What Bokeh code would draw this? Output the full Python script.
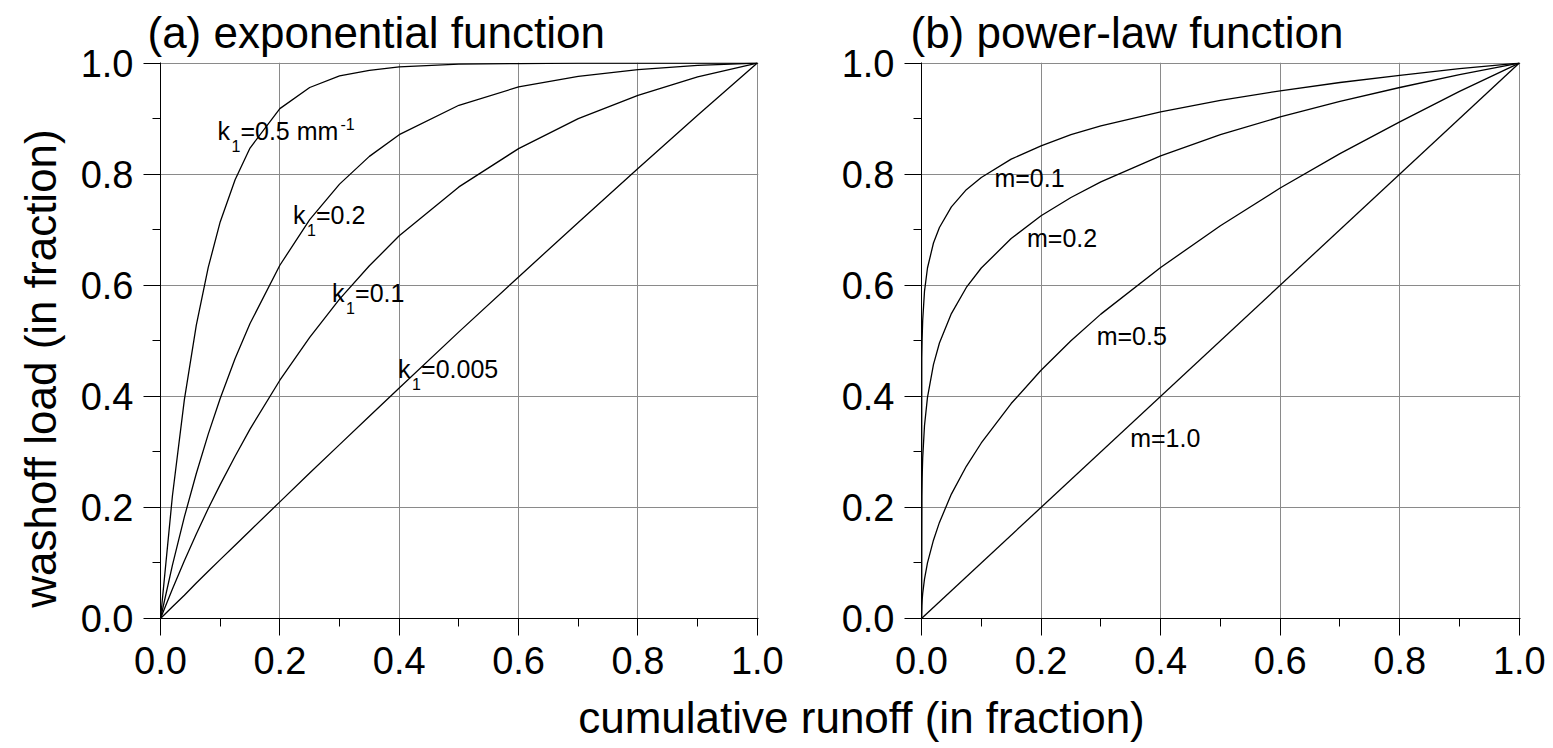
from math import pi
from bokeh.plotting import figure
from bokeh.models import Range1d, FixedTicker, Label
from bokeh.layouts import row, column
from bokeh.embed import file_html
from bokeh.resources import INLINE

# ---------------- data ----------------
exp_x = [0, 0.02, 0.04, 0.06, 0.08, 0.1, 0.125, 0.15, 0.2, 0.25, 0.3, 0.35,
         0.4, 0.5, 0.6, 0.7, 0.8, 0.9, 1.0]
k_05 = [0, 0.221, 0.394, 0.528, 0.632, 0.714, 0.790, 0.847, 0.918, 0.956, 0.977,
        0.987, 0.993, 0.998, 0.999, 1.0, 1.0, 1.0, 1.0]
k_02 = [0, 0.096, 0.183, 0.261, 0.332, 0.396, 0.468, 0.531, 0.636, 0.718, 0.782,
        0.832, 0.871, 0.924, 0.957, 0.976, 0.988, 0.996, 1.0]
k_01 = [0, 0.053, 0.104, 0.152, 0.198, 0.241, 0.292, 0.341, 0.429, 0.506, 0.575,
        0.635, 0.689, 0.777, 0.846, 0.900, 0.942, 0.975, 1.0]
k_0005 = [0, 0.021, 0.042, 0.064, 0.085, 0.106, 0.132, 0.158, 0.210, 0.262, 0.313,
          0.364, 0.415, 0.516, 0.615, 0.713, 0.810, 0.906, 1.0]

pow_x = [0, 0.0005, 0.001, 0.002, 0.005, 0.01, 0.02, 0.03, 0.05, 0.075, 0.1, 0.15,
         0.2, 0.25, 0.3, 0.4, 0.5, 0.6, 0.7, 0.8, 0.9, 1.0]
m_01 = [0, 0.468, 0.501, 0.537, 0.589, 0.631, 0.676, 0.704, 0.741, 0.772, 0.794,
        0.827, 0.851, 0.871, 0.887, 0.912, 0.933, 0.950, 0.965, 0.978, 0.990, 1.0]
m_02 = [0, 0.219, 0.251, 0.289, 0.347, 0.398, 0.457, 0.496, 0.549, 0.596, 0.631,
        0.684, 0.725, 0.758, 0.786, 0.833, 0.871, 0.903, 0.931, 0.956, 0.979, 1.0]
m_05 = [0, 0.022, 0.032, 0.045, 0.071, 0.100, 0.141, 0.173, 0.224, 0.274, 0.316,
        0.387, 0.447, 0.500, 0.548, 0.632, 0.707, 0.775, 0.837, 0.894, 0.949, 1.0]
lin_x = [0, 1.0]
m_10 = [0, 1.0]

major_ticks = [0, 0.2, 0.4, 0.6, 0.8, 1.0]
minor_ticks = [0.1, 0.3, 0.5, 0.7, 0.9]
tick_labels = ["0.0", "0.2", "0.4", "0.6", "0.8", "1.0"]

panel_titles = ["(a) exponential function", "(b) power-law function"]
y_title = "washoff load (in fraction)"
x_title = "cumulative runoff (in fraction)"

FONT = "Liberation Sans"
GRID = "#8a8a8a"
H = 694


def make_panel(width, left, right, title, title_offset):
    p = figure(width=width, height=H, x_range=Range1d(0, 1.002), y_range=Range1d(0, 1.001),
               output_backend="svg", toolbar_location=None,
               min_border_left=left, min_border_right=right,
               min_border_top=62, min_border_bottom=H - 62 - 556)
    p.outline_line_color = None
    p.background_fill_color = "white"
    p.border_fill_color = "white"
    p.title.text = title
    p.title.align = "left"
    p.title.offset = title_offset
    p.title.standoff = 11
    p.title.text_font = FONT
    p.title.text_font_size = "44px"
    p.title.text_font_style = "normal"
    p.title.text_color = "black"
    for ax, standoff in ((p.xaxis[0], 11), (p.yaxis[0], 10)):
        ax.ticker = FixedTicker(ticks=major_ticks, minor_ticks=minor_ticks)
        ax.major_label_overrides = {t: l for t, l in zip(major_ticks, tick_labels)}
        ax.major_tick_out = 17
        ax.major_tick_in = 0
        ax.minor_tick_out = 8
        ax.minor_tick_in = 0
        ax.axis_line_color = "black"
        ax.major_tick_line_color = "black"
        ax.minor_tick_line_color = "black"
        ax.major_label_text_font = FONT
        ax.major_label_text_font_size = "38px"
        ax.major_label_text_color = "black"
        ax.major_label_standoff = standoff
    p.xgrid.ticker = FixedTicker(ticks=major_ticks)
    p.ygrid.ticker = FixedTicker(ticks=major_ticks)
    p.grid.grid_line_color = GRID
    p.grid.grid_line_width = 1
    return p


def lab(p, x, y, text, size="25px", dx=0, dy=9):
    p.add_layout(Label(x=x, y=y, x_offset=dx, y_offset=dy, text=text,
                       text_font=FONT, text_font_size=size, text_color="black",
                       text_baseline="alphabetic", text_align="left"))


def k_label(p, x, y, rest, sup=None):
    lab(p, x, y, "k")
    lab(p, x, y, "1", size="16px", dx=14, dy=-6)
    lab(p, x, y, rest, dx=23)
    if sup:
        lab(p, x, y, sup, size="16px", dx=123, dy=16)


def blank(width, height):
    q = figure(width=width, height=height, x_range=Range1d(0, width), y_range=Range1d(0, height),
               title=None, x_axis_location=None, y_axis_location=None,
               output_backend="svg", toolbar_location=None,
               min_border_left=0, min_border_right=0, min_border_top=0, min_border_bottom=0)
    q.grid.visible = False
    q.outline_line_color = None
    return q


# ---------------- y title strip ----------------
py = blank(70, H)
py.add_layout(Label(x=40, y=H - 382, text=y_title, angle=pi / 2, angle_units="rad",
                    text_font=FONT, text_font_size="44px", text_color="black",
                    text_align="center", text_baseline="middle"))

# ---------------- panel (a) ----------------
pa = make_panel(738, 90, 50, panel_titles[0], -13)
for ys in (k_05, k_02, k_01, k_0005):
    pa.line(exp_x, ys, line_color="black", line_width=1.3)
k_label(pa, 0.0953, 0.861, "=0.5 mm", sup="-1")
k_label(pa, 0.222, 0.711, "=0.2")
k_label(pa, 0.2875, 0.569, "=0.1")
k_label(pa, 0.398, 0.4325, "=0.005")

# ---------------- panel (b) ----------------
pb = make_panel(745, 113, 33, panel_titles[1], -11)
for ys in (m_01, m_02, m_05):
    pb.line(pow_x, ys, line_color="black", line_width=1.3)
pb.line(lin_x, m_10, line_color="black", line_width=1.3)
lab(pb, 0.122, 0.776, "m=0.1")
lab(pb, 0.1765, 0.669, "m=0.2")
lab(pb, 0.293, 0.492, "m=0.5")
lab(pb, 0.349, 0.309, "m=1.0")

# ---------------- common x title ----------------
px = blank(1553, 52)
px.add_layout(Label(x=861, y=52 - 39 + 16, text=x_title, text_font=FONT, text_font_size="44px",
                    text_color="black", text_align="center", text_baseline="alphabetic"))

layout = column(row(py, pa, pb), px)
open("out.html", "w").write(file_html(layout, INLINE))
